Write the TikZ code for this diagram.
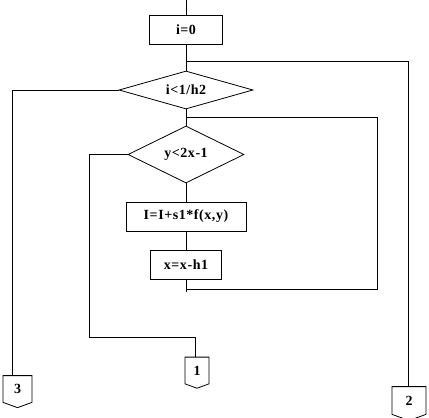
\documentclass[tikz,border=0pt]{standalone}
\usepackage{fontspec}
\setmainfont{Liberation Serif}
\usepackage{tikz}
\usetikzlibrary{shapes.geometric,shapes.symbols}

\begin{document}
\begin{tikzpicture}[x=1pt,y=-1pt,font=\fontsize{14}{16}\selectfont\bfseries\addfontfeatures{LetterSpace=4},
  line width=0.8pt,
  box/.style={draw,inner sep=0pt,minimum height=29pt},
  cond/.style={draw,diamond,inner sep=0pt,aspect=2.5},
  offpg/.style={draw,signal,signal to=south,signal pointer angle=140,inner sep=0pt,
    minimum height=28pt}]
\useasboundingbox (0,0) rectangle (429,418);
% blocks
\coordinate (top) at (186,0);
\node[box,minimum width=73pt] (init) at (186,29.5) {i=0};
\node[cond,minimum width=134pt,minimum height=38pt] (outer) at (186,90) {i<1/h2};
\node[cond,minimum width=116pt,minimum height=57pt] (inner) at (186,154.5) {y<2x-1};
\node[box,minimum width=120pt] (sum) at (186,216.5) {I=I+s1*f(x,y)};
\node[box,minimum width=71pt] (step) at (186,264.5) {x=x-h1};
\coordinate (back) at (186,292);
% off-page connectors
\node[offpg,minimum width=29pt] (out3) at (17.5,389) {3};
\node[offpg,minimum width=24pt] (out1) at (197,370.5) {1};
\node[offpg,minimum width=34pt,minimum height=29pt] (out2) at (409,400.5) {2};
% main flow
\draw (top) -- (init);
\draw (init) -- (outer);
\draw (outer) -- (inner);
\draw (inner) -- (sum);
\draw (sum) -- (step);
\draw (step) -- (back);
% branches
\coordinate (j1) at (186,61);
\coordinate (j2) at (186,117);
\coordinate (j3) at (186,289);
\draw (j1) -- (408,61) -- (408,0 |- out2.north);
\draw (outer.west) -- (12,90) -- (12,0 |- out3.north);
\draw (j2) -- (377,117) -- (377,289) -- (j3);
\draw (inner.west) -- (89,154.5) -- (89,337) -- (195,337) -- (195,0 |- out1.north);
\end{tikzpicture}
\end{document}
